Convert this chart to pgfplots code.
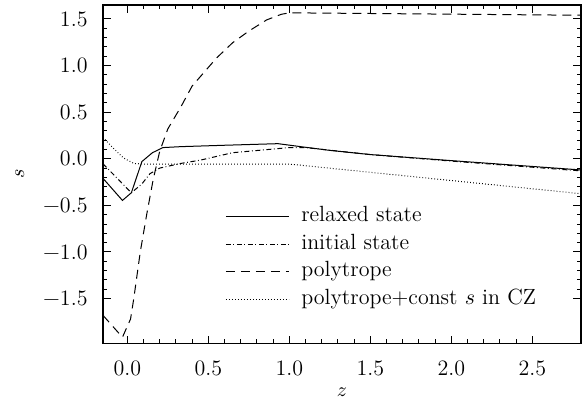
\documentclass[border=0pt]{standalone}
\usepackage{fontspec}
\usepackage{pgfplots}
\pgfplotsset{compat=1.18}
\begin{document}
\begin{tikzpicture}
\useasboundingbox (-51.5pt,-30.85pt) rectangle (240.5pt,171.65pt);
\begin{axis}[
  scale only axis, width=239pt, height=169.15pt,
  xmin=-0.15, xmax=2.8, ymin=-1.98, ymax=1.65,
  xtick={0,0.5,1,1.5,2,2.5}, ytick={-1.5,-1,-0.5,0,0.5,1,1.5},
  xticklabels={0.0,0.5,1.0,1.5,2.0,2.5},
  yticklabels={−1.5,−1.0,−0.5,0.0,0.5,1.0,1.5},
  tick label style={font=\fontsize{11}{13}\selectfont},
  minor x tick num=4, minor y tick num=4,
  tick align=inside, major tick length=3.8pt, minor tick length=1.9pt,
  axis line style={line width=0.6pt}, every tick/.style={black, line width=0.5pt},
  x tick label style={yshift=-5.5pt}, y tick label style={xshift=-4.2pt},
  xlabel={$z$}, ylabel={$s$},
  xlabel style={at={(axis description cs:0.5,-0.144)}, anchor=center},
  ylabel style={at={(axis description cs:-0.174,0.5)}, anchor=center},
  legend style={at={(axis description cs:0.255,0.402)}, anchor=north west,
    draw=none, fill=none, inner sep=0pt, row sep=5pt, column sep=6pt,
    font=\fontsize{11}{13}\selectfont,
    nodes={inner sep=0pt, text height=6.9pt, text depth=1.9pt}},
  legend cell align=left,
  legend image code/.code={\draw[#1] (0pt,0pt) -- (31.5pt,0pt);},
]
% relaxed state
\addplot[black, line width=0.5pt] coordinates {
(-0.15,-0.21) (-0.03,-0.447) (0.025,-0.365) (0.09,-0.03) (0.155,0.065)
(0.22,0.12) (0.33,0.13) (0.6,0.145) (0.93,0.162) (1.07,0.13) (1.25,0.09)
(1.5,0.045) (2.0,-0.02) (2.8,-0.12)};
\addlegendentry{relaxed state}
% initial state
\addplot[black, line width=0.5pt, dash pattern=on 2.5pt off 1.3pt on 0.4pt off 1.3pt] coordinates {
(-0.15,-0.054) (0.025,-0.365) (0.09,-0.27) (0.14,-0.16) (0.2,-0.10)
(0.33,-0.05) (0.45,-0.015) (0.65,0.065) (1.0,0.12) (1.1,0.12)
(1.5,0.045) (2.0,-0.025) (2.8,-0.13)};
\addlegendentry{initial state}
% polytrope
\addplot[black, line width=0.5pt, dash pattern=on 4.5pt off 3pt] coordinates {
(-0.15,-1.68) (-0.03,-1.915) (0.02,-1.72) (0.04,-1.50) (0.08,-1.0)
(0.12,-0.595) (0.16,-0.22) (0.2,0.08) (0.25,0.32) (0.33,0.555)
(0.40,0.78) (0.45,0.88) (0.55,1.08) (0.65,1.245) (0.75,1.37) (0.86,1.49)
(0.95,1.55) (1.0,1.566) (2.8,1.54)};
\addlegendentry{polytrope}
% polytrope + const s in CZ
\addplot[black, line width=0.5pt, dash pattern=on 0.4pt off 1.1pt] coordinates {
(-0.15,0.23) (-0.09,0.12) (-0.025,0.01) (0.04,-0.05) (0.1,-0.057)
(1.0,-0.057) (2.8,-0.375)};
\addlegendentry{polytrope+const $s$ in CZ}
\end{axis}
\end{tikzpicture}
\end{document}
